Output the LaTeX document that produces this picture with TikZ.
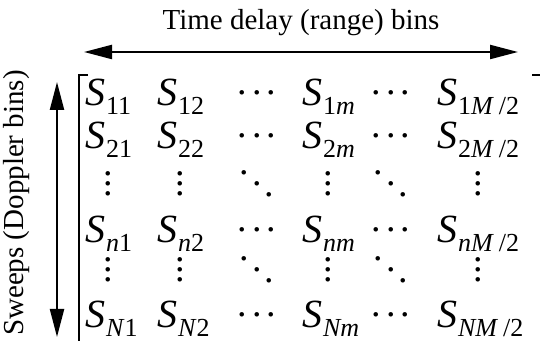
\documentclass[tikz,border=0pt]{standalone}
\usepackage{fontspec}
\setmainfont{Liberation Serif}
\usetikzlibrary{arrows.meta,positioning,calc}

\newcommand{\mS}[1]{\textit{S}\kern0.3pt\raisebox{-4.5pt}{\fontsize{13}{13}\selectfont #1}}
\newcommand{\hdts}{.\kern2.5pt.\kern2.5pt.}
\newcommand{\vdts}{\vbox{\baselineskip=5pt\lineskiplimit=-10pt\hbox{.}\hbox{.}\hbox{.}}}
\newcommand{\ddts}{\raisebox{11pt}{.}\kern1.5pt\raisebox{5.5pt}{.}\kern1.5pt.}

\begin{document}
\begin{tikzpicture}[
    x=0.5pt, y=-0.5pt,
    entry/.style={anchor=base west, inner sep=0pt, font=\fontsize{20}{20}\selectfont},
    dotcell/.style={inner sep=0pt, font=\fontsize{19}{19}\selectfont},
    heading/.style={inner sep=0pt, font=\fontsize{14.5}{14.5}\selectfont},
    dbl/.style={{Triangle[length=14pt,width=7pt]}-{Triangle[length=14pt,width=7pt]}, line width=1.1pt},
    brack/.style={line width=0.8pt}
]
    \useasboundingbox (0,0) rectangle (540,341);

    \node[heading, anchor=base] (ttl) at (301,30) {Time delay (range) bins};
    \node[heading, anchor=base, rotate=90] (swp) at (23,203) {Sweeps (Doppler bins)};

    \coordinate (hl) at (84,52);
    \coordinate (hr) at (518,52);
    \coordinate (vt) at (57,82);
    \coordinate (vb) at (57,337);
    \draw[dbl] (hl) -- (hr);
    \draw[dbl] (vt) -- (vb);

    \coordinate (btop) at (88,75);
    \coordinate (bcor) at (79,75);
    \coordinate (bbot) at (79,341);
    \coordinate (rtl) at (532,75);
    \coordinate (rtr) at (540,75);
    \draw[brack] (btop) -- (bcor) -- (bbot);
    \draw[brack] (rtl) -- (rtr);

    \node[entry] (s11) at (85,106) {\mS{11}};
    \node[entry] (s12) at (157,106) {\mS{12}};
    \node[dotcell] (c13) at (257,93) {\hdts};
    \node[entry] (s14) at (302,106) {\mS{1\textit{m}}};
    \node[dotcell] (c15) at (391,93) {\hdts};
    \node[entry] (s16) at (437,106) {\mS{1\textit{M}\kern2.5pt/2}};

    \node[entry] (s21) at (85,149) {\mS{21}};
    \node[entry] (s22) at (157,149) {\mS{22}};
    \node[dotcell] (c23) at (257,136) {\hdts};
    \node[entry] (s24) at (302,149) {\mS{2\textit{m}}};
    \node[dotcell] (c25) at (391,136) {\hdts};
    \node[entry] (s26) at (437,149) {\mS{2\textit{M}\kern2.5pt/2}};

    \coordinate (r3) at (0,184);
    \node[dotcell] (v31) at (s11 |- r3) {\vdts};
    \node[dotcell] (v32) at (s12 |- r3) {\vdts};
    \node[dotcell] (d33) at (c13 |- r3) {\ddts};
    \node[dotcell] (v34) at (s14 |- r3) {\vdts};
    \node[dotcell] (d35) at (c15 |- r3) {\ddts};
    \node[dotcell] (v36) at (s16 |- r3) {\vdts};

    \node[entry] (s41) at (85,243) {\mS{\textit{n}1}};
    \node[entry] (s42) at (157,243) {\mS{\textit{n}2}};
    \node[dotcell] (c43) at (257,230) {\hdts};
    \node[entry] (s44) at (302,243) {\mS{\textit{nm}}};
    \node[dotcell] (c45) at (391,230) {\hdts};
    \node[entry] (s46) at (437,243) {\mS{\textit{nM}\kern2.5pt/2}};

    \coordinate (r5) at (0,270);
    \node[dotcell] (v51) at (s11 |- r5) {\vdts};
    \node[dotcell] (v52) at (s12 |- r5) {\vdts};
    \node[dotcell] (d53) at (c13 |- r5) {\ddts};
    \node[dotcell] (v54) at (s14 |- r5) {\vdts};
    \node[dotcell] (d55) at (c15 |- r5) {\ddts};
    \node[dotcell] (v56) at (s16 |- r5) {\vdts};

    \node[entry] (s61) at (85,328) {\mS{\textit{N}1}};
    \node[entry] (s62) at (157,328) {\mS{\textit{N}2}};
    \node[dotcell] (c63) at (257,315) {\hdts};
    \node[entry] (s64) at (302,328) {\mS{\textit{Nm}}};
    \node[dotcell] (c65) at (391,315) {\hdts};
    \node[entry] (s66) at (437,328) {\mS{\textit{NM}\kern2.5pt/2}};
\end{tikzpicture}
\end{document}
